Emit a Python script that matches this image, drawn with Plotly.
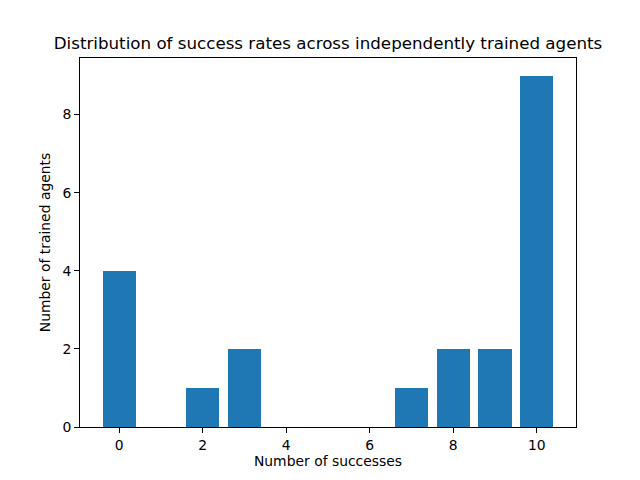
import plotly.graph_objects as go

successes = [0, 1, 2, 3, 4, 5, 6, 7, 8, 9, 10]
agents = [4, 0, 1, 2, 0, 0, 0, 1, 2, 2, 9]

title = "Distribution of success rates across independently trained agents"
xlabel = "Number of successes"
ylabel = "Number of trained agents"

font = "DejaVu Sans"
fig = go.Figure(go.Bar(x=successes, y=agents, width=0.8, marker=dict(color="#1f77b4", line=dict(width=0))))

# page body has an 8px margin; shift plot area accordingly
fig.update_layout(
    width=640, height=480,
    margin=dict(l=72, r=72, t=50, b=61, pad=0),
    paper_bgcolor="white", plot_bgcolor="white",
    font=dict(family=font, size=13.9, color="black"),
    title=dict(text=title, x=(328 - 8) / 640, xref="container", xanchor="center", y=1 - 35/480, yanchor="middle",
               font=dict(size=16.7, family=font, color="black")),
    showlegend=False,
    bargap=0,
)
axis_common = dict(showline=True, linecolor="black", linewidth=1, mirror=True, ticks="outside",
                   ticklen=5, tickwidth=1, tickcolor="black", showgrid=False, zeroline=False,
                   tickfont=dict(size=13.9, family=font, color="black"))
fig.update_xaxes(range=[-0.94, 10.94], tickmode="array", tickvals=[0, 2, 4, 6, 8, 10],
                 title=dict(text=xlabel, font=dict(size=13.9, family=font), standoff=4), **axis_common)
fig.update_yaxes(range=[0, 9.45], tickmode="array", tickvals=[0, 2, 4, 6, 8],
                 title=dict(text=ylabel, font=dict(size=13.9, family=font), standoff=8), **axis_common)

fig.write_html("out.html")
